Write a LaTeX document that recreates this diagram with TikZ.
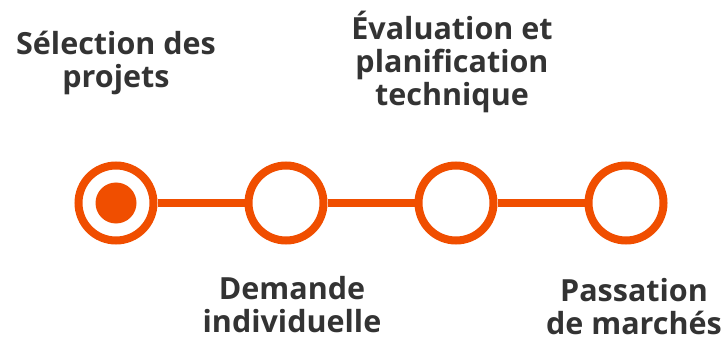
\documentclass[tikz,border=0pt]{standalone}
\usepackage{fontspec}
\setmainfont{Open Sans}
\definecolor{steporange}{HTML}{F04E00}
\definecolor{labelgray}{HTML}{333333}
\begin{document}
\begin{tikzpicture}[x=1pt, y=-1pt,
		ring/.style={circle, draw=steporange, line width=8pt, fill=white, minimum size=75pt, inner sep=0pt},
		link/.style={draw=steporange, line width=8pt},
		steplabel/.style={align=center, text=labelgray, inner sep=0pt, anchor=base,
			font=\fontsize{30.5}{33}\selectfont\bfseries}]
		\useasboundingbox (0,0) rectangle (725,339);
		% the four steps
		\node[ring] (selection) at (116,203) {};
		\node[ring] (demande) at (286,203) {};
		\node[ring] (evaluation) at (456,203) {};
		\node[ring] (passation) at (626,203) {};
		\node[circle, fill=steporange, minimum size=41pt, inner sep=0pt] (current) at (selection) {};
		% links
		\draw[link] (selection) -- (demande);
		\draw[link] (demande) -- (evaluation);
		\draw[link] (evaluation) -- (passation);
		% labels, anchored at the last line
		\node[steplabel] (selectionlabel) at (116,88) {Sélection des\\projets};
		\node[steplabel] (evaluationlabel) at (452,106) {Évaluation et\\planification\\technique};
		\node[steplabel] (demandelabel) at (292,332) {Demande\\individuelle};
		\node[steplabel] (passationlabel) at (634,334) {Passation\\de marchés};
	\end{tikzpicture}
\end{document}
